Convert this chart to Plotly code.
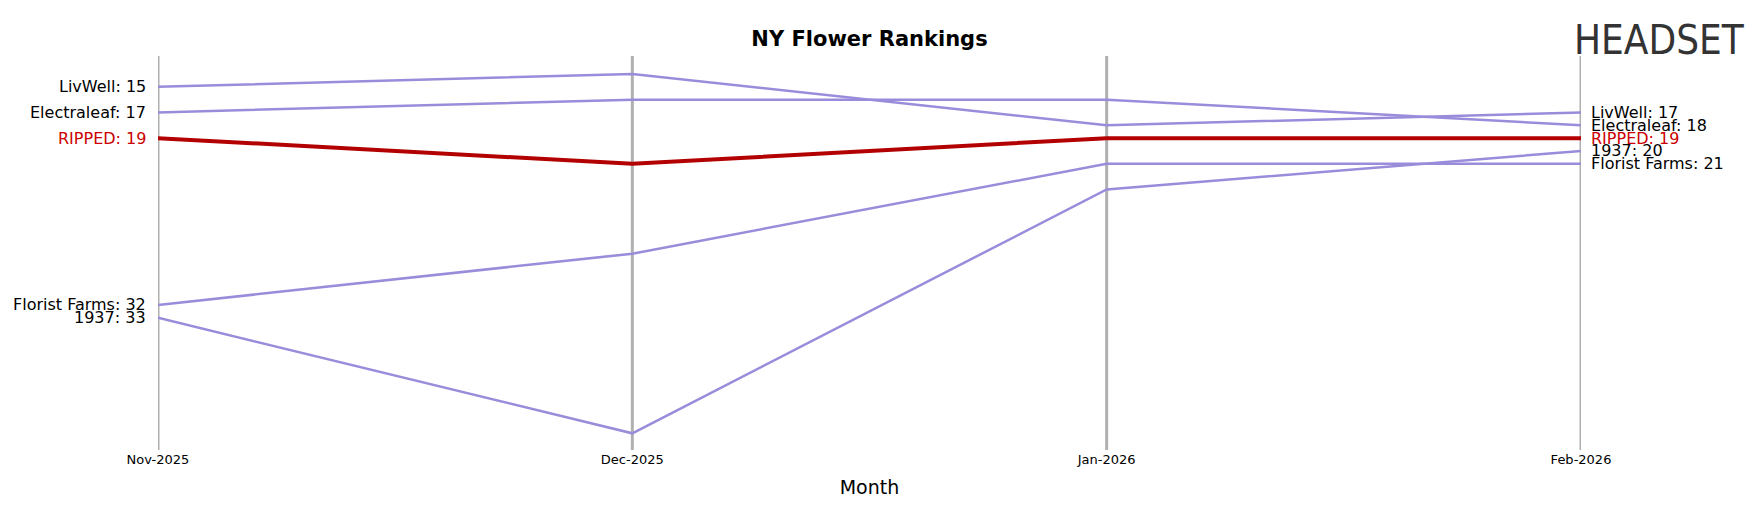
import plotly.graph_objects as go

months = ["Nov-2025", "Dec-2025", "Jan-2026", "Feb-2026"]
brands = ["LivWell", "Electraleaf", "RIPPED", "Florist Farms", "1937"]
ranks = {
    "LivWell": [15, 14, 18, 17],
    "Electraleaf": [17, 16, 16, 18],
    "RIPPED": [19, 21, 19, 19],
    "Florist Farms": [32, 28, 21, 21],
    "1937": [33, 42, 23, 20],
}
highlight = "RIPPED"

xs = list(range(len(months)))
fig = go.Figure()

for i in xs:
    fig.add_shape(type="line", x0=i, x1=i, y0=0, y1=1, yref="paper",
                  line=dict(color="#b0b0b0", width=3), layer="below")

for b in brands:
    hl = b == highlight
    fig.add_trace(go.Scatter(
        x=xs, y=ranks[b], mode="lines", name=b, showlegend=False, cliponaxis=False,
        line=dict(color="#b30000" if hl else "#9a8cdb", width=4 if hl else 2.5),
    ))
    col = "#cc0000" if hl else "black"
    fig.add_annotation(x=0, y=ranks[b][0], text=f"{b}: {ranks[b][0]}", showarrow=False,
                       xanchor="right", xshift=-10, font=dict(size=16, color=col))
    fig.add_annotation(x=3, y=ranks[b][-1], text=f"{b}: {ranks[b][-1]}", showarrow=False,
                       xanchor="left", xshift=8, font=dict(size=16, color=col))

# logo stand-in
fig.add_annotation(x=1.0, xref="paper", xanchor="right", xshift=166, y=1.04, yref="paper",
                   yanchor="middle", text="HEADSET", showarrow=False,
                   font=dict(size=40, color="#333333", family="DejaVu Sans Condensed"))

fig.update_xaxes(range=[0, 3], tickvals=xs, ticktext=months, showgrid=False, zeroline=False,
                 showline=False, tickfont=dict(size=13, color="black"), ticklen=0,
                 title=dict(text="Month", font=dict(size=19, color="black"), standoff=14))
fig.update_yaxes(range=[43.3, 12.6], visible=False)
fig.update_layout(
    width=1763, height=507,
    title=dict(text="<b>NY Flower Rankings</b>", x=0.5, xref="paper", y=0.94,
               yanchor="middle", font=dict(size=21, color="black")),
    font=dict(family="DejaVu Sans"),
    margin=dict(l=150, r=190, t=48, b=65),
    plot_bgcolor="white", paper_bgcolor="white",
)
fig.write_html("out.html")
